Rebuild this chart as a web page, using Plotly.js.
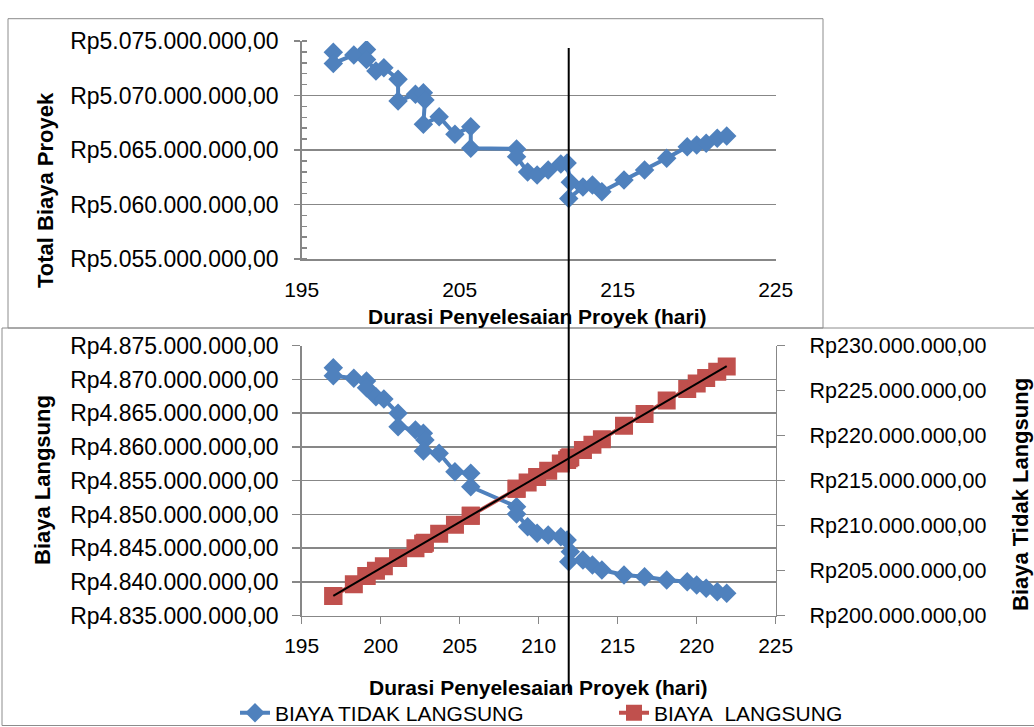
<!DOCTYPE html>
<html>
<head>
<meta charset="utf-8">
<script src="https://cdn.plot.ly/plotly-3.0.1.min.js"></script>
<style>html,body{margin:0;padding:0;background:#fff}#chart{width:1034px;height:727px}</style>
</head>
<body>
<div id="chart"></div>
<script>
// Durasi penyelesaian proyek (hari)
const durasi = [197.0,197.0,198.3,199.1,199.1,199.7,200.2,201.1,201.1,202.2,202.7,202.8,202.7,203.7,204.7,205.7,205.7,208.6,208.6,209.3,209.9,210.6,211.4,211.8,212.0,211.9,212.8,213.4,214.0,215.4,216.7,218.1,219.4,220.0,220.6,221.3,221.9];
// Total biaya proyek (Rp)
const totalBiaya = [5073960000,5072940000,5073720000,5074220000,5073300000,5072250000,5072550000,5071490000,5069500000,5070110000,5070260000,5069590000,5067360000,5068060000,5066440000,5067140000,5065160000,5065100000,5064390000,5062980000,5062710000,5063170000,5063720000,5063810000,5062030000,5060550000,5061610000,5061790000,5061170000,5062250000,5063170000,5064240000,5065300000,5065460000,5065610000,5066070000,5066280000];
// Seri biru (kiri): BIAYA TIDAK LANGSUNG
const biayaTidakLangsung = [4871740000,4870560000,4870170000,4869770000,4868780000,4867440000,4867100000,4864980000,4863000000,4862510000,4862020000,4861030000,4859400000,4859060000,4856330000,4856100000,4854110000,4851150000,4850070000,4848190000,4847210000,4846960000,4846700000,4846210000,4844480000,4843000000,4843250000,4842510000,4841770000,4841030000,4840780000,4840290000,4840040000,4839550000,4839060000,4838560000,4838320000];
// Seri merah (kanan): BIAYA  LANGSUNG
const biayaLangsung = [202200000,202200000,203500000,204400000,204400000,205000000,205500000,206400000,206400000,207500000,208000000,208100000,208000000,209100000,210100000,211100000,211100000,214100000,214100000,214800000,215400000,216100000,216900000,217300000,217600000,217500000,218400000,219000000,219600000,221100000,222400000,223900000,225200000,225800000,226400000,227100000,227700000];
const durasiOptimum = 211.9;
const seriesNames = ['BIAYA TIDAK LANGSUNG', 'BIAYA\u00A0 LANGSUNG'];

// linear trendline of the red series (least squares)
const n = durasi.length;
const mx = durasi.reduce((a,b)=>a+b,0)/n;
const my = biayaLangsung.reduce((a,b)=>a+b,0)/n;
let sxy=0, sxx=0;
for (let i=0;i<n;i++){ sxy += (durasi[i]-mx)*(biayaLangsung[i]-my); sxx += (durasi[i]-mx)**2; }
const slope = sxy/sxx, icpt = my - slope*mx;
const trendX = [Math.min(...durasi), Math.max(...durasi)];
const trendY = trendX.map(x => icpt + slope*x);

const BLUE = '#4F81BD', RED = '#C0504D', GRID = '#878787';
const FONT = 'Liberation Sans, Arial, sans-serif';

const traces = [
  {x: durasi, y: totalBiaya, xaxis:'x', yaxis:'y', mode:'lines+markers', showlegend:false,
   line:{color:BLUE, width:4}, marker:{symbol:'diamond', size:15, color:BLUE}},
  {x: durasi, y: biayaTidakLangsung, xaxis:'x2', yaxis:'y2', mode:'lines+markers', name: seriesNames[0],
   line:{color:BLUE, width:4}, marker:{symbol:'diamond', size:15, color:BLUE}},
  {x: durasi, y: biayaLangsung, xaxis:'x2', yaxis:'y3', mode:'lines+markers', name: seriesNames[1],
   line:{color:RED, width:4}, marker:{symbol:'square', size:18, color:RED}},
  {x: trendX, y: trendY, xaxis:'x2', yaxis:'y3', mode:'lines', showlegend:false,
   line:{color:'#000', width:2}}
];

const W=1034, H=727;
const px = v => v/W, py = v => 1 - v/H;
const rot = (text, x, y) => ({text, xref:'paper', yref:'paper', x:px(x), y:py(y), xanchor:'center', yanchor:'middle',
  textangle:-90, showarrow:false, font:{size:22}});
const hor = (text, x, y) => ({text, xref:'paper', yref:'paper', x:px(x), y:py(y), xanchor:'center', yanchor:'middle',
  showarrow:false, font:{size:21}});

const layout = {
  width:W, height:H, margin:{l:0,r:0,t:0,b:0,autoexpand:false},
  paper_bgcolor:'#fff', plot_bgcolor:'rgba(0,0,0,0)',
  separators: ',.',
  font:{family:FONT, size:21, color:'#000'},
  xaxis:{domain:[px(301.7), px(775.7)], range:[195,225], tick0:195, dtick:10, anchor:'y',
    showgrid:false, zeroline:false, showline:true, linecolor:GRID, linewidth:1.5,
    ticks:'', ticklabelstandoff:11, tickfont:{size:21}},
  yaxis:{domain:[py(259), py(41)], range:[5055000000,5075000000], tick0:5055000000, dtick:5000000, anchor:'x',
    showgrid:true, gridcolor:GRID, gridwidth:1.5, zeroline:false, showline:true, linecolor:GRID, linewidth:1.5,
    ticks:'outside', ticklen:6, tickcolor:GRID, tickwidth:1.5, tickprefix:'Rp', tickformat:',.2f',
    ticklabelstandoff:11, tickfont:{size:23},
    minor:{ticks:'inside', ticklen:5, dtick:1000000, tickcolor:GRID, tickwidth:1.5, showgrid:false}},
  xaxis2:{domain:[px(301.7), px(775.7)], range:[195,225], tick0:195, dtick:5, anchor:'y2',
    showgrid:false, zeroline:false, showline:true, linecolor:GRID, linewidth:1.5,
    ticks:'outside', ticklen:7, tickcolor:GRID, tickwidth:1.5, ticklabelstandoff:4, tickfont:{size:21}},
  yaxis2:{domain:[py(615.7), py(345.7)], range:[4835000000,4875000000], tick0:4835000000, dtick:5000000, anchor:'x2',
    showgrid:true, gridcolor:GRID, gridwidth:1.5, zeroline:false, showline:true, linecolor:GRID, linewidth:1.5,
    ticks:'outside', ticklen:8, tickcolor:GRID, tickwidth:1.5, tickprefix:'Rp', tickformat:',.2f',
    ticklabelstandoff:9, tickfont:{size:23}},
  yaxis3:{overlaying:'y2', side:'right', anchor:'x2', range:[200000000,230000000], tick0:200000000, dtick:5000000,
    showgrid:false, zeroline:false, showline:true, linecolor:GRID, linewidth:1.5,
    ticks:'outside', ticklen:8, tickcolor:GRID, tickwidth:1.5, tickprefix:'Rp', tickformat:',.2f',
    ticklabelstandoff:20, tickfont:{size:21.5}},
  showlegend:true,
  legend:{orientation:'h', x:px(235), xanchor:'left', y:py(713), yanchor:'middle',
    entrywidth:334, entrywidthmode:'pixels', font:{size:21}, bgcolor:'rgba(0,0,0,0)', traceorder:'normal'},
  annotations:[
    rot('<b>Total Biaya Proyek</b>', 45, 190),
    hor('<b>Durasi Penyelesaian Proyek (hari)</b>', 537, 316),
    hor('<b>Durasi Penyelesaian Proyek (hari)</b>', 538, 687),
    rot('<b>Biaya Langsung</b>', 42, 480),
    rot('<b>Biaya Tidak Langsung</b>', 1020, 495)
  ],
  shapes:[
    {type:'rect', xref:'paper', yref:'paper', x0:px(8), x1:px(823), y0:py(328), y1:py(18.7), line:{color:'#8c8c8c', width:1}, layer:'below'},
    {type:'rect', xref:'paper', yref:'paper', x0:px(2), x1:px(1040), y0:py(725.5), y1:py(328), line:{color:'#8c8c8c', width:1}, layer:'below'},
    {type:'line', xref:'x2', yref:'paper', x0:durasiOptimum, x1:durasiOptimum, y0:py(693), y1:py(48), line:{color:'#000', width:2}}
  ]
};

Plotly.newPlot('chart', traces, layout, {staticPlot:true, displayModeBar:false});
</script>
</body>
</html>
